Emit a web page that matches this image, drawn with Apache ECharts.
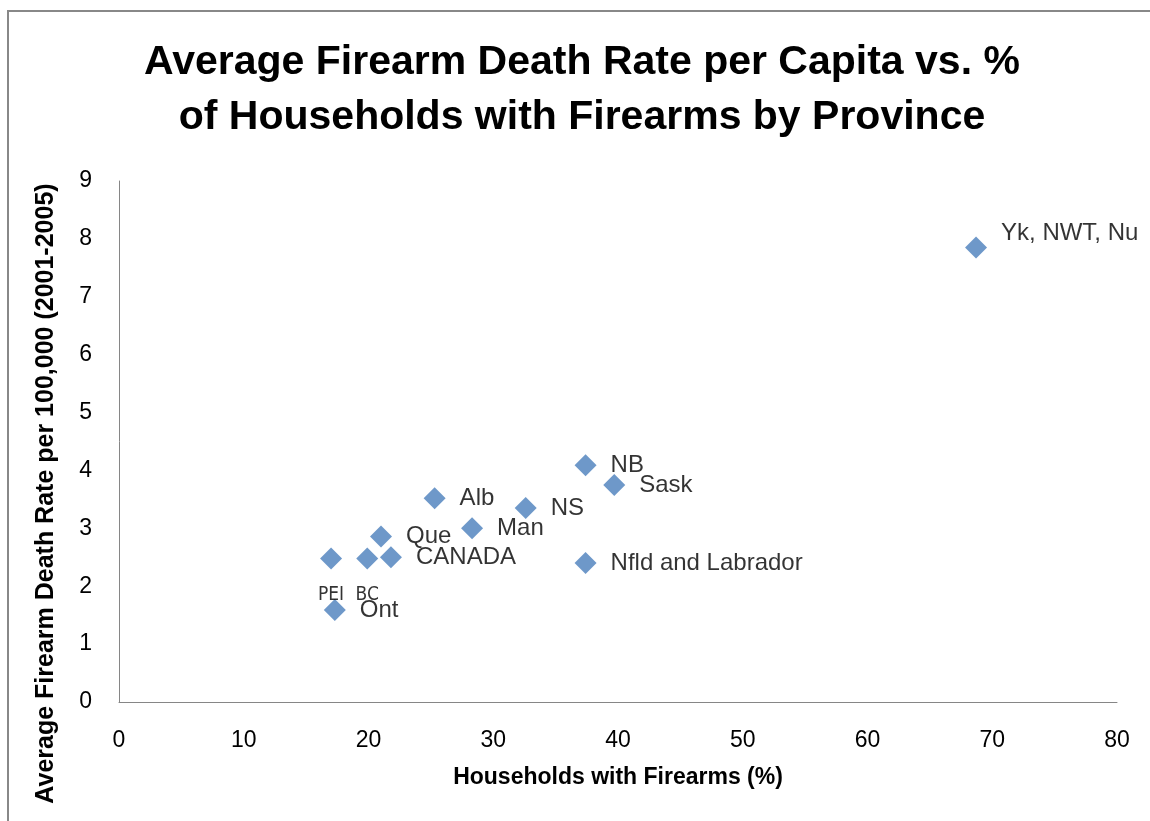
<!DOCTYPE html>
<html>
<head>
<meta charset="utf-8">
<script src="https://cdn.jsdelivr.net/npm/echarts@6/dist/echarts.min.js"></script>
<style>
  html, body { margin: 0; padding: 0; background: #fff; }
  #chart { width: 1150px; height: 821px; }
</style>
</head>
<body>
<div id="chart"></div>
<script>
// values
var provinces = ['Yk, NWT, Nu', 'NB', 'Sask', 'NS', 'Alb', 'Man', 'Que', 'CANADA', 'BC', 'PEI', 'Nfld and Labrador', 'Ont'];
var householdsPct = [68.7, 37.4, 39.7, 32.6, 25.3, 28.3, 21.0, 21.8, 19.9, 17.0, 37.4, 17.3];
var deathRates = [7.85, 4.09, 3.75, 3.35, 3.52, 3.00, 2.86, 2.50, 2.48, 2.48, 2.40, 1.59];

var titleText = 'Average Firearm Death Rate per Capita vs. %\nof Households with Firearms by Province';
var xTitle = 'Households with Firearms (%)';
var yTitle = 'Average Firearm Death Rate per 100,000 (2001-2005)';

var font = '"Liberation Sans", Arial, sans-serif';
var narrow = '"DejaVu Sans Condensed", "Liberation Sans Narrow", sans-serif';

// labels that don't sit to the right of their marker
var labelTweaks = {
  'Yk, NWT, Nu': { offset: [0, -14] },
  'PEI': { position: 'bottom', distance: 16, fontSize: 19, fontFamily: narrow },
  'BC': { position: 'bottom', distance: 16, fontSize: 19, fontFamily: narrow }
};

var points = provinces.map(function (name, i) {
  var item = { name: name, value: [householdsPct[i], deathRates[i]] };
  if (labelTweaks[name]) item.label = labelTweaks[name];
  return item;
});

var chart = echarts.init(document.getElementById('chart'));

chart.setOption({
  animation: false,
  backgroundColor: '#fff',
  graphic: [{
    type: 'rect',
    shape: { x: 8, y: 11, width: 1200, height: 900 },
    style: { fill: 'none', stroke: '#888', lineWidth: 2 },
    silent: true
  }],
  title: {
    text: titleText,
    left: 582,
    top: 35,
    padding: 0,
    textAlign: 'center',
    textStyle: {
      fontFamily: font,
      fontWeight: 'bold',
      fontSize: 41,
      lineHeight: 55,
      color: '#000'
    }
  },
  grid: {
    left: 119,
    right: 33,
    top: 181,
    bottom: 119,
    containLabel: false,
    outerBoundsMode: 'none'
  },
  xAxis: {
    type: 'value',
    min: 0,
    max: 80,
    interval: 10,
    name: xTitle,
    nameLocation: 'middle',
    nameGap: 64,
    nameTextStyle: { fontFamily: font, fontWeight: 'bold', fontSize: 23, color: '#000' },
    axisLine: { show: true, lineStyle: { color: '#868686', width: 1 } },
    axisTick: { show: false },
    splitLine: { show: false },
    axisLabel: { margin: 27, fontFamily: font, fontSize: 23, color: '#000' }
  },
  yAxis: {
    type: 'value',
    min: 0,
    max: 9,
    interval: 1,
    name: yTitle,
    nameLocation: 'middle',
    nameGap: 60,
    nameTextStyle: {
      fontFamily: font,
      fontWeight: 'bold',
      fontSize: 25,
      color: '#000',
      padding: [0, 104, 0, 0]
    },
    axisLine: { show: true, lineStyle: { color: '#868686', width: 1 } },
    axisTick: { show: false },
    splitLine: { show: false },
    axisLabel: { margin: 27, fontFamily: font, fontSize: 23, color: '#000' }
  },
  series: [{
    type: 'scatter',
    symbol: 'diamond',
    symbolSize: 22,
    itemStyle: { color: '#4a7ebb' },
    label: {
      show: true,
      formatter: '{b}',
      position: 'right',
      distance: 14,
      fontFamily: font,
      fontSize: 24,
      color: '#000'
    },
    data: points
  }]
});
</script>
</body>
</html>
